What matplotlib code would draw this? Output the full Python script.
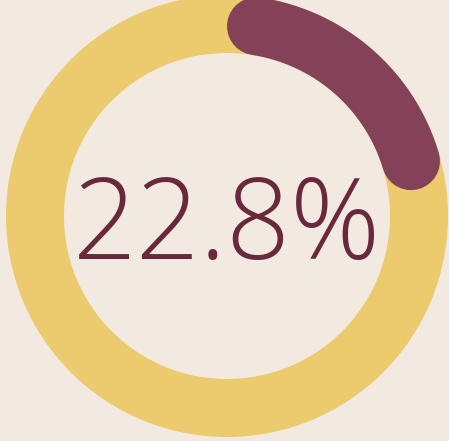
import numpy as np
import matplotlib.pyplot as plt
from matplotlib.patches import Wedge

# data
value = 22.8          # percent shown in the gauge
label = "22.8%"

bg = "#f2e9e1"
track_color = "#ecca6e"
arc_color = "#834257"
text_color = "#6a283c"

W, H, dpi = 449, 441, 100
fig = plt.figure(figsize=(W / dpi, H / dpi), dpi=dpi, facecolor=bg)
ax = fig.add_axes([0, 0, 1, 1])
ax.set_xlim(0, W)
ax.set_ylim(H, 0)
ax.set_aspect("equal")
ax.axis("off")
ax.set_facecolor(bg)

cx, cy = 227, 216
r_out, r_in = 221, 163
width = r_out - r_in
r_mid = (r_out + r_in) / 2

# yellow track
ax.add_patch(Wedge((cx, cy), r_out, 0, 360, width=width, color=track_color, lw=0))

# value arc, round caps kept inside the value span
cap = np.degrees(np.arcsin((width / 2) / r_mid))
end = value / 100 * 360
th = np.radians(np.linspace(cap, end - cap, 200))
xs = cx + r_mid * np.sin(th)
ys = cy - r_mid * np.cos(th)
lw_pt = width * 72 / dpi
ax.plot(xs, ys, color=arc_color, lw=lw_pt, solid_capstyle="round")

ax.text(cx, 259, label, ha="center", va="baseline", fontsize=80.5,
        family="Open Sans", fontweight="light", color=text_color)

fig.savefig("out.png", dpi=dpi, facecolor=bg)
